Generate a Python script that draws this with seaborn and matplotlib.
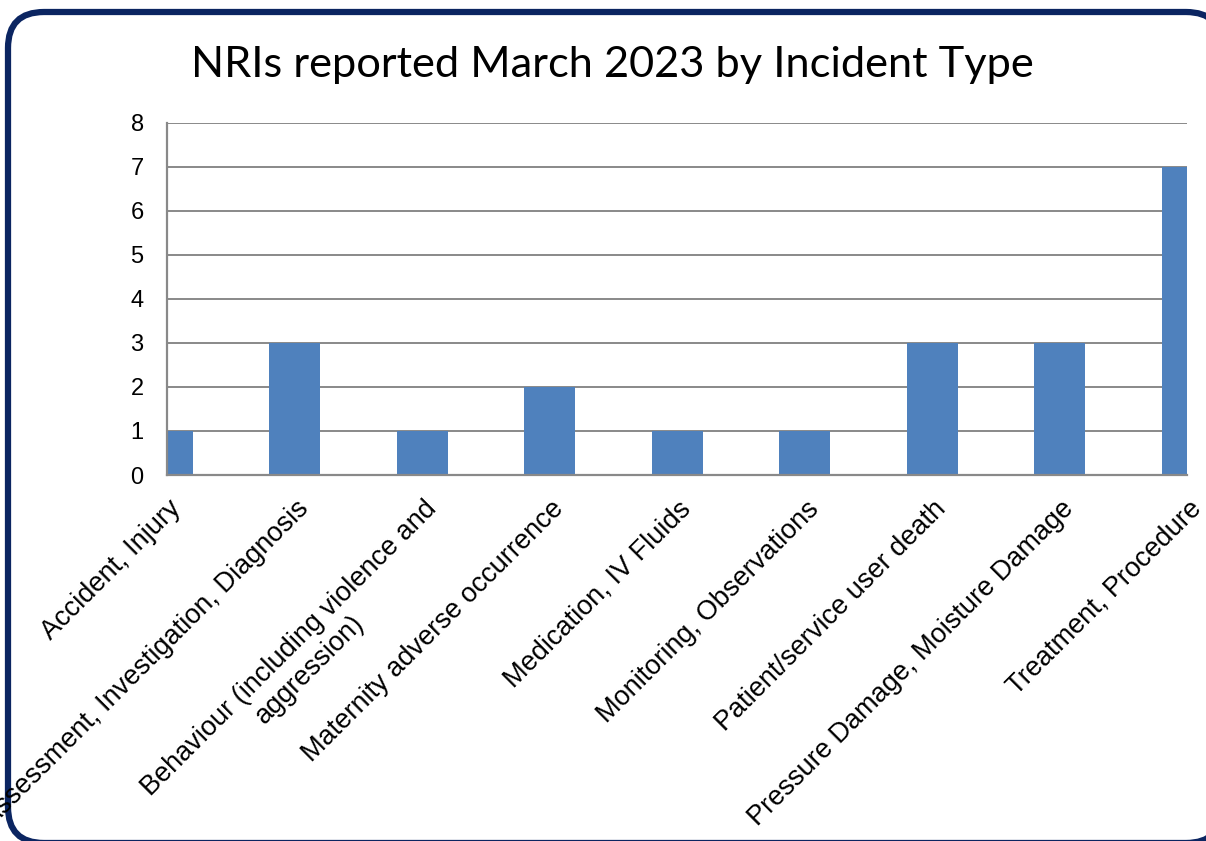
import matplotlib
matplotlib.use("Agg")
import matplotlib.pyplot as plt
import matplotlib.transforms as mtransforms
from matplotlib.patches import FancyBboxPatch
import seaborn as sns
import pandas as pd

categories = [
    "Accident, Injury",
    "Assessment, Investigation, Diagnosis",
    "Behaviour (including violence and\naggression)",
    "Maternity adverse occurrence",
    "Medication, IV Fluids",
    "Monitoring, Observations",
    "Patient/service user death",
    "Pressure Damage, Moisture Damage",
    "Treatment, Procedure",
]
counts = [1, 3, 1, 2, 1, 1, 3, 3, 7]
y_ticks = [0, 1, 2, 3, 4, 5, 6, 7, 8]
title = "NRIs reported March 2023 by Incident Type"

df = pd.DataFrame({"Incident Type": categories, "Count": counts})

sns.set_theme(style="white")
plt.rcParams["font.family"] = ["Liberation Sans", "DejaVu Sans"]

W, H, DPI = 1206, 841, 100
fig = plt.figure(figsize=(W / DPI, H / DPI), dpi=DPI)
fig.patch.set_facecolor("white")

# background axes in pixel units (for the rounded chart border)
bg = fig.add_axes([0, 0, 1, 1], zorder=-1)
bg.set_xlim(0, W)
bg.set_ylim(0, H)
bg.axis("off")
left_px, top_px, right_px, bottom_px = 8, 12, 1222, 843
border = FancyBboxPatch((left_px, H - bottom_px), right_px - left_px, bottom_px - top_px,
                        boxstyle="round,pad=0,rounding_size=36",
                        facecolor="white", edgecolor="#0B2561", linewidth=4.5,
                        clip_on=False)
bg.add_patch(border)

ax = fig.add_axes([167.3 / W, 1 - 475 / H, (1187 - 167.3) / W, (475 - 122.7) / H])
ax.patch.set_alpha(0)
sns.barplot(data=df, x="Incident Type", y="Count", color="#4F81BD",
            saturation=1, width=0.4, linewidth=0, ax=ax, zorder=3)
ax.set_xlim(0, len(categories) - 1)
ax.set_ylim(0, 8)
ax.set_yticks(y_ticks)
ax.set_xlabel("")
ax.set_ylabel("")

grid_c = "#898989"
ax.yaxis.grid(True, color=grid_c, linewidth=1.4, zorder=1)
ax.xaxis.grid(False)
ax.set_axisbelow(True)
for s in ["top", "right"]:
    ax.spines[s].set_visible(False)
for s in ["left", "bottom"]:
    ax.spines[s].set_visible(True)
    ax.spines[s].set_color(grid_c)
    ax.spines[s].set_linewidth(1.6)
    ax.spines[s].set_zorder(4)

ax.tick_params(axis="y", length=0, pad=17, labelsize=17, labelcolor="black")
ax.tick_params(axis="x", length=0, pad=15, labelsize=19.5, labelcolor="black")

offset = mtransforms.ScaledTranslation(1 / DPI, 0, fig.dpi_scale_trans)
for lab in ax.get_xticklabels():
    lab.set_rotation(45)
    lab.set_ha("right")
    lab.set_va("top")
    lab.set_rotation_mode("anchor")
    lab.set_multialignment("center")
    lab.set_transform(lab.get_transform() + offset)
    lab.set_clip_path(border)

t = fig.text(612.5 / W, 1 - 77 / H, title, ha="center", va="baseline",
             fontsize=34, family=["Lato", "DejaVu Sans"], color="black")
fig.canvas.draw()
w = t.get_window_extent().width
t.set_fontsize(34 * 845 / w)

fig.savefig("out.png", dpi=DPI, facecolor="white")
